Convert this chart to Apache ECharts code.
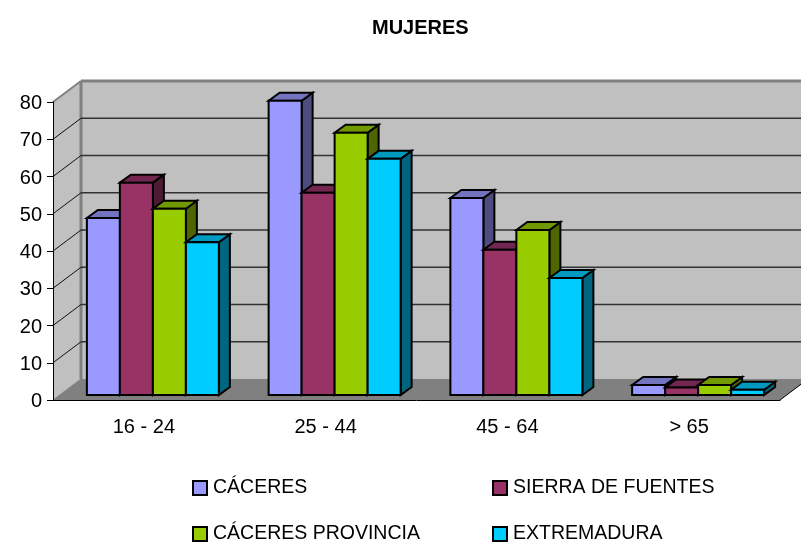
<!DOCTYPE html>
<html>
<head>
<meta charset="utf-8">
<style>
  html, body { margin: 0; padding: 0; background: #fff; }
  #chart { width: 801px; height: 545px; }
</style>
<script src="https://cdn.jsdelivr.net/npm/echarts@6/dist/echarts.min.js"></script>
</head>
<body>
<div id="chart"></div>
<script>
const categories = ['16 - 24', '25 - 44', '45 - 64', '> 65']
const caceres = [47.5, 79, 52.9, 2.7]
const sierraDeFuentes = [57, 54.3, 39, 2]
const caceresProvincia = [50, 70.4, 44.3, 2.7]
const extremadura = [41, 63.4, 31.4, 1.4]
const yTicks = [0, 10, 20, 30, 40, 50, 60, 70, 80]

const seriesNames = ['CÁCERES', 'SIERRA DE FUENTES', 'CÁCERES PROVINCIA', 'EXTREMADURA']
const seriesValues = [caceres, sierraDeFuentes, caceresProvincia, extremadura]
const frontColors = ['#9999FF', '#993366', '#99CC00', '#00CCFF']
const topColors = ['#7373BF', '#732650', '#739900', '#0099BF']
const sideColors = ['#4D4D80', '#4D1A33', '#4D6600', '#006680']

// fake 3d depth, in pixels
const wallDx = 28
const wallDy = -21
const barOffX = 9
const barOffY = -5
const barDx = 11
const barDy = -8
const barW = 33

const poly = (points, fill, stroke, lineWidth) => ({
  type: 'polygon',
  shape: { points },
  style: { fill, stroke: stroke || 'none', lineWidth: lineWidth || 0 }
})
const line = (a, b, stroke, lineWidth) => ({
  type: 'line',
  shape: { x1: a[0], y1: a[1], x2: b[0], y2: b[1] },
  style: { stroke, lineWidth }
})

function renderWalls(params, api) {
  const tick = api.value(0)
  const left = api.coord([0, tick])
  left[0] -= api.size([1, 0])[0] / 2
  const right = [left[0] + api.size([1, 0])[0] * categories.length, left[1]]
  const back = p => [p[0] + wallDx, p[1] + wallDy]
  const children = []
  if (params.dataIndex === 0) {
    const top = api.coord([0, yTicks[yTicks.length - 1]])[1]
    const tl = [left[0], top]
    const tr = [right[0], top]
    children.push(poly([left, tl, back(tl), back(left)], '#C0C0C0'))
    children.push(poly([back(left), back(tl), back(tr), back(right)], '#C0C0C0'))
    children.push(poly([left, back(left), back(right), right], '#808080'))
    children.push(line(back(left), back(tl), '#808080', 3))
    children.push(line(back(tl), back(tr), '#808080', 3))
    children.push(line(left, back(left), '#808080', 1))
    children.push(line(tl, back(tl), '#808080', 2))
    children.push(line(right, back(right), '#000', 1))
  } else if (params.dataIndex < yTicks.length - 1) {
    children.push(line(left, back(left), '#111', 1))
    children.push(line(back(left), back(right), '#333', 1.5))
  }
  return { type: 'group', children }
}

function renderBar(params, api) {
  const i = params.seriesIndex - 1
  const p = api.coord([api.value(0), api.value(1)])
  const base = api.coord([api.value(0), 0])
  const x0 = p[0] + barOffX - 2 * barW + i * barW
  const x1 = x0 + barW
  const yTop = p[1] + barOffY
  const yBot = base[1] + barOffY
  const st = { stroke: '#000', lineWidth: 2, lineJoin: 'miter' }
  const part = (points, fill) => ({
    type: 'polygon',
    shape: { points },
    style: Object.assign({ fill }, st)
  })
  return {
    type: 'group',
    children: [
      part([[x1, yTop], [x1 + barDx, yTop + barDy], [x1 + barDx, yBot + barDy], [x1, yBot]], sideColors[i]),
      part([[x0, yTop], [x0 + barDx, yTop + barDy], [x1 + barDx, yTop + barDy], [x1, yTop]], topColors[i]),
      part([[x0, yTop], [x1, yTop], [x1, yBot], [x0, yBot]], frontColors[i])
    ]
  }
}

const font = 'Liberation Sans'
const legendPlaces = [[192, 478], [492, 478], [192, 524], [492, 524]]

const chart = echarts.init(document.getElementById('chart'))
chart.setOption({
  animation: false,
  backgroundColor: '#fff',
  title: {
    text: 'MUJERES',
    left: 372,
    top: 18,
    padding: 0,
    textStyle: { fontFamily: font, fontSize: 20, fontWeight: 'bold', color: '#000' }
  },
  grid: { left: 53, right: 21, top: 102, height: 298 },
  legend: seriesNames.map((name, i) => ({
    data: [name],
    left: legendPlaces[i][0],
    top: legendPlaces[i][1],
    padding: 0,
    itemWidth: 14,
    itemHeight: 14,
    itemGap: 0,
    icon: 'rect',
    selectedMode: false,
    itemStyle: { borderColor: '#000', borderWidth: 2 },
    textStyle: { fontFamily: font, fontSize: 19.5, color: '#000', padding: [0, 0, 6, 1] }
  })),
  xAxis: {
    type: 'category',
    data: categories,
    z: 10,
    axisLine: { lineStyle: { color: '#000', width: 1 } },
    axisTick: { alignWithLabel: false, length: 7, lineStyle: { color: '#000' } },
    axisLabel: { fontFamily: font, fontSize: 20, color: '#000', margin: 17 }
  },
  yAxis: {
    type: 'value',
    min: 0,
    max: 80,
    interval: 10,
    z: 10,
    splitLine: { show: false },
    axisLine: { show: true, lineStyle: { color: '#000', width: 1 } },
    axisTick: { show: true, length: 6, lineStyle: { color: '#000' } },
    axisLabel: { fontFamily: font, fontSize: 20, color: '#000', margin: 11, verticalAlign: 'top', lineHeight: 3 }
  },
  series: [
    {
      type: 'custom',
      name: 'paredes',
      z: 1,
      silent: true,
      renderItem: renderWalls,
      encode: { y: 0 },
      data: yTicks.map(t => [t])
    }
  ].concat(seriesNames.map((name, i) => ({
    type: 'custom',
    name,
    z: 2 + i,
    renderItem: renderBar,
    itemStyle: { color: frontColors[i] },
    encode: { x: 0, y: 1 },
    data: seriesValues[i].map((v, c) => [c, v])
  })))
})
</script>
</body>
</html>
